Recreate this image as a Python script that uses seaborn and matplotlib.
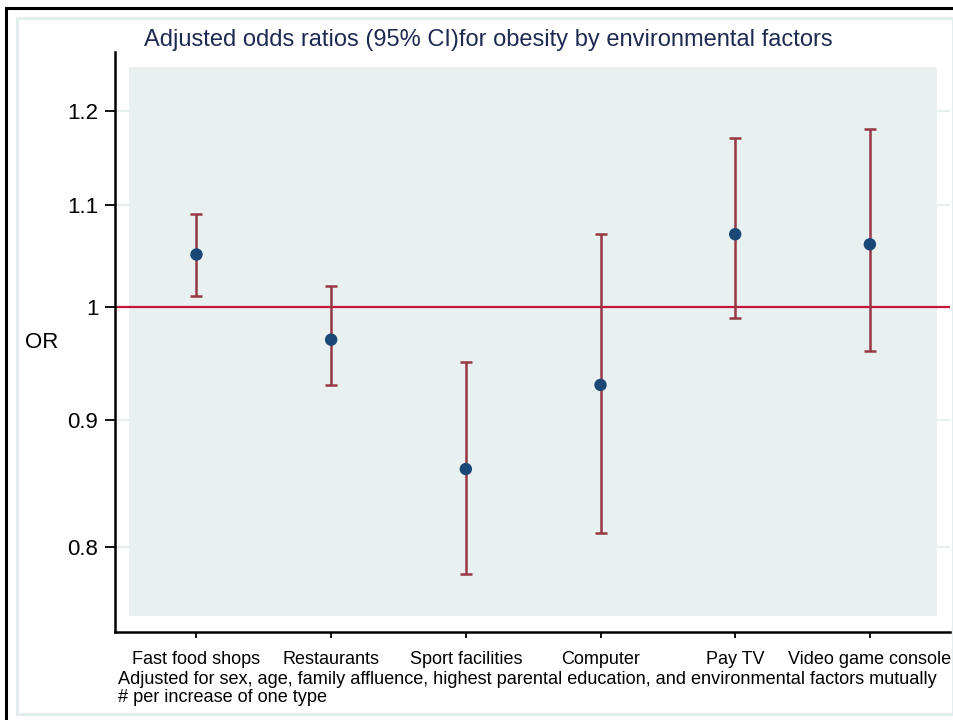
import matplotlib
matplotlib.use("Agg")
import matplotlib.pyplot as plt
from matplotlib.patches import Rectangle
import numpy as np
import pandas as pd
import seaborn as sns

# Adjusted odds ratios with 95% confidence limits
factors = ["Fast food shops", "Restaurants", "Sport facilities",
           "Computer", "Pay TV", "Video game console"]
odds_ratio = [1.05, 0.97, 0.86, 0.93, 1.07, 1.06]
ci_lower = [1.01, 0.93, 0.78, 0.81, 0.99, 0.96]
ci_upper = [1.09, 1.02, 0.95, 1.07, 1.17, 1.18]
y_ticks = [0.8, 0.9, 1.0, 1.1, 1.2]
y_tick_labels = ["0.8", "0.9", "1", "1.1", "1.2"]

df = pd.DataFrame({"factor": factors, "OR": odds_ratio,
                   "lo": ci_lower, "hi": ci_upper})

sns.set_theme(style="white")
plt.rcParams["font.family"] = ["Liberation Sans", "DejaVu Sans"]

fig = plt.figure(figsize=(9.54, 7.2), dpi=100)
fig.patch.set_facecolor("white")

# outer frames
fig.add_artist(Rectangle((6 / 954, -0.05), 1.2, 1 - 8 / 720 + 0.05,
                         transform=fig.transFigure, fill=False,
                         edgecolor="black", linewidth=2.2, zorder=0))
fig.add_artist(Rectangle((17 / 954, 1 - 714 / 720), (953 - 17) / 954,
                         (714 - 18) / 720, transform=fig.transFigure,
                         fill=False, edgecolor="#e3edee", linewidth=2.2,
                         zorder=0))

ax = fig.add_axes([115 / 954, 1 - 632 / 720, (950 - 115) / 954,
                   (632 - 52) / 720])
ax.set_facecolor("white")
ax.set_yscale("log")
ax.set_ylim(0.739, 1.2677)
ax.set_xlim(-0.605, 5.595)

# shaded plot region
ax.add_patch(Rectangle((-0.5, 0.75), 6.0, 0.5, facecolor="#e8f0f0",
                       edgecolor="none", zorder=1))

for t in y_ticks:
    ax.axhline(t, color="#e6eeee", linewidth=1.5, zorder=0.5)

ax.axhline(1.0, color="#c4163f", linewidth=1.6, zorder=2)

x_pos = np.arange(len(factors))
ax.errorbar(x_pos, df["OR"],
            yerr=[df["OR"] - df["lo"], df["hi"] - df["OR"]],
            fmt="none", ecolor="#973845", elinewidth=1.8, capsize=4.2,
            capthick=1.8, zorder=3)

sns.scatterplot(data=df, x="factor", y="OR", ax=ax, color="#1a4876",
                s=80, edgecolor="none", zorder=4, legend=False)

ax.set_xlim(-0.605, 5.595)
ax.set_xticks(x_pos)
ax.set_xticklabels(factors, fontsize=13)
ax.set_yticks(y_ticks)
ax.set_yticklabels(y_tick_labels, fontsize=16)
ax.yaxis.set_minor_locator(matplotlib.ticker.NullLocator())
ax.set_xlabel("")
ax.set_ylabel("")

for side in ["top", "right"]:
    ax.spines[side].set_visible(False)
for side in ["left", "bottom"]:
    ax.spines[side].set_visible(True)
    ax.spines[side].set_color("black")
    ax.spines[side].set_linewidth(1.8)

ax.tick_params(axis="y", direction="out", length=7, width=1.3,
               color="black", pad=5, labelcolor="black", left=True)
ax.tick_params(axis="x", direction="out", length=4, width=1.3,
               color="black", pad=10, labelcolor="black", bottom=True)

fig.text(25 / 954, 1 - 342 / 720, "OR", fontsize=16, ha="left",
         va="center", color="black")
fig.text(488 / 954, 1 - 40 / 720,
         "Adjusted odds ratios (95% CI)for obesity by environmental factors",
         fontsize=17, ha="center", va="center", color="#1e2a52")
fig.text(118 / 954, 1 - 680 / 720,
         "Adjusted for sex, age, family affluence, highest parental "
         "education, and environmental factors mutually",
         fontsize=13.1, ha="left", va="center", color="black")
fig.text(118 / 954, 1 - 698 / 720, "# per increase of one type",
         fontsize=13.1, ha="left", va="center", color="black")

fig.savefig("out.png", dpi=100)
